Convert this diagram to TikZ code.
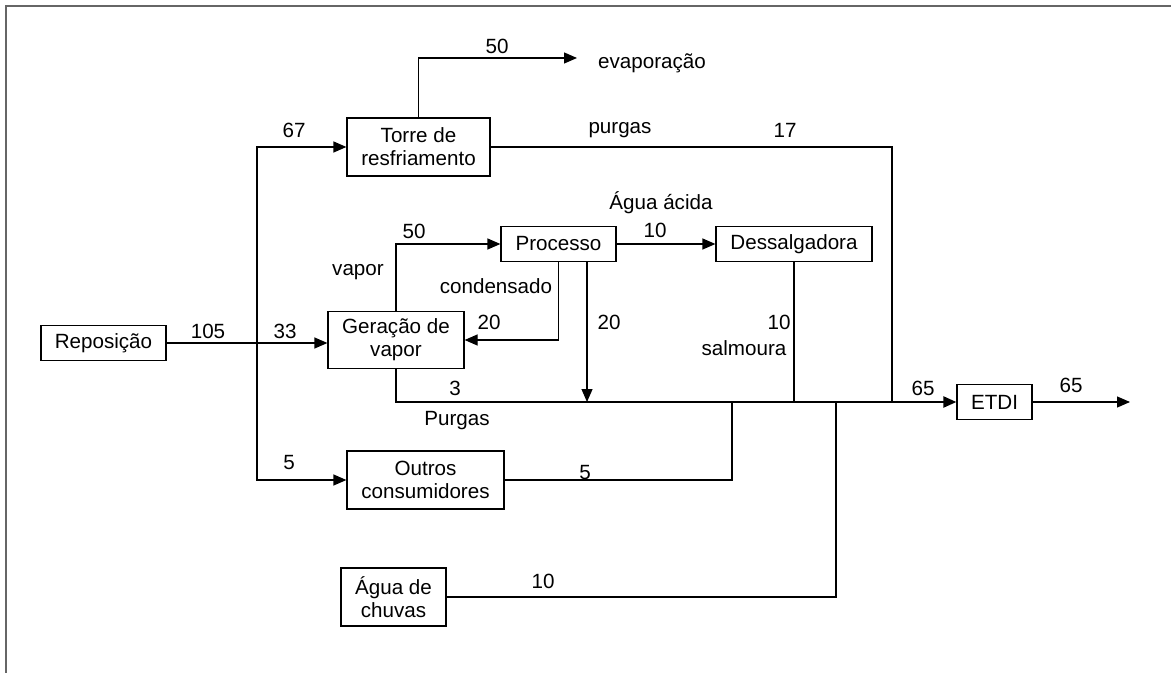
\documentclass[tikz,border=0pt]{standalone}
\usepackage{fontspec}
\setmainfont{Liberation Sans}
\usetikzlibrary{arrows.meta}

\tikzset{
  >={Triangle[length=6.5pt,width=5.5pt]},
  bloco/.style={draw, line width=0.6pt, align=center, inner sep=0pt},
  rot/.style={inner sep=0pt},
}

\begin{document}
\begin{tikzpicture}[x=0.5pt, y=-0.5pt, line width=0.6pt, font=\fontsize{10.3}{11.5}\selectfont]
\useasboundingbox (0,0) rectangle (1171,673);
\draw[line width=1pt, black!60] (6,673) -- (6,6) -- (1171,6);

% blocos
\node[bloco, minimum width=62.5pt, minimum height=17.5pt] (rep) at (103.5,343) {Reposição};
\node[bloco, minimum width=71.5pt, minimum height=29pt] (torre) at (418.5,147) {Torre de\\resfriamento};
\node[bloco, minimum width=57.5pt, minimum height=17.5pt] (proc) at (558.5,244) {Processo};
\node[bloco, minimum width=78pt, minimum height=17.5pt] (dess) at (794,244) {Dessalgadora};
\node[bloco, minimum width=68pt, minimum height=28.5pt] (ger) at (396,340) {Geração de\\vapor};
\node[bloco, minimum width=78.5pt, minimum height=29pt] (outros) at (425.5,480) {Outros\\consumidores};
\node[bloco, minimum width=52.5pt, minimum height=29pt] (agua) at (393.5,597) {Água de\\chuvas};
\node[bloco, minimum width=37.5pt, minimum height=17.5pt] (etdi) at (994.5,402) {ETDI};

\coordinate (sp) at (257,343);
\coordinate (evap) at (577,58);
\coordinate (j17) at (892,402);
\coordinate (p20) at (587,402);
\coordinate (j5) at (732,402);
\coordinate (j10) at (836,402);
\coordinate (out) at (1130,402);

% fluxos
\draw[->] (rep.east) -- (rep.east -| ger.west);
\draw[->] (sp) |- (torre.west);
\draw[->] (sp) |- (outros.west);
\draw[->] (torre.north) |- (evap);
\draw (torre.east) -| (j17);
\draw[->] (ger.north) |- (proc.west);
\draw[->] (proc.south) |- (ger.east);
\draw[->] (p20 |- proc.south) -- (p20);
\draw[->] (proc.east) -- (dess.west);
\draw (dess.south) -- (dess.south |- j17);
\draw (ger.south) |- (j5);
\draw (outros.east) -| (j5);
\draw (agua.east) -| (j10);
\draw[->, line width=1.1pt] (j5) -- (etdi.west);
\draw[->] (etdi.east) -- (out);

% rotulos
\node[rot] (l50a) at (497,46) {50};
\node[rot] (levap) at (652,63) {evaporação};
\node[rot] (l67) at (294,130) {67};
\node[rot] (lpurg) at (620,130) {purgas};
\node[rot] (l17) at (785,130) {17};
\node[rot] (lacida) at (661,203) {Água ácida};
\node[rot] (l50b) at (414,231) {50};
\node[rot] (l10a) at (655,230) {10};
\node[rot] (lvapor) at (358,272) {vapor};
\node[rot] (lcond) at (496,286) {condensado};
\node[rot] (l20a) at (489,322) {20};
\node[rot] (l20b) at (609,322) {20};
\node[rot] (l10b) at (779,322) {10};
\node[rot] (l105) at (208,331) {105};
\node[rot] (l33) at (285,331) {33};
\node[rot] (lsalm) at (744,348) {salmoura};
\node[rot] (l3) at (455,388) {3};
\node[rot] (l65a) at (923,388) {65};
\node[rot] (l65b) at (1071,385) {65};
\node[rot] (lPurg) at (457,421) {Purgas};
\node[rot] (l5a) at (289,463) {5};
\node[rot] (l5b) at (585,473) {5};
\node[rot] (l10c) at (543,581) {10};
\end{tikzpicture}
\end{document}
